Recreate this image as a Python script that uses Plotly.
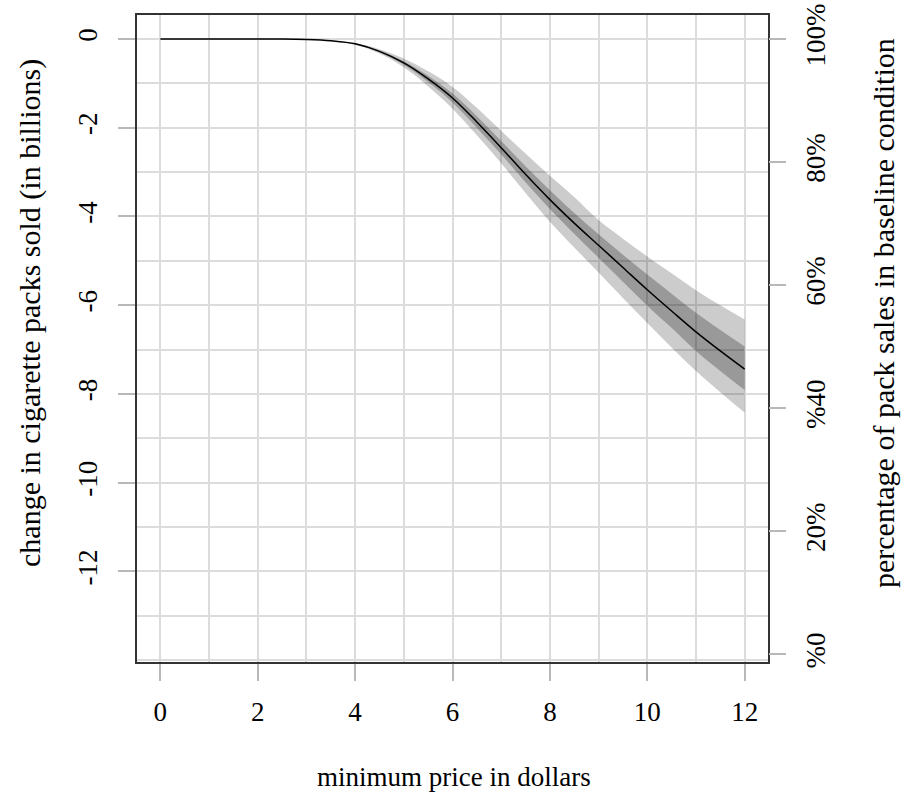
import plotly.graph_objects as go

# minimum price (dollars)
price = [0, 0.5, 1, 1.5, 2, 2.5, 3, 3.5, 4, 4.5, 5, 5.5, 6, 6.5, 7, 7.5, 8, 8.5, 9, 9.5, 10, 10.5, 11, 11.5, 12]
# central estimate: change in packs sold (billions)
change = [0, 0, 0, 0, 0, 0, -0.01, -0.04, -0.11, -0.28, -0.54, -0.90, -1.33, -1.87, -2.45, -3.05,
          -3.62, -4.15, -4.65, -5.15, -5.65, -6.13, -6.60, -7.03, -7.44]
# outer interval
outer_hi = [0, 0, 0, 0, 0, 0, -0.01, -0.035, -0.09, -0.23, -0.44, -0.73, -1.08, -1.55, -2.07, -2.58,
            -3.08, -3.56, -4.08, -4.50, -4.90, -5.28, -5.66, -6.00, -6.32]
outer_lo = [0, 0, 0, 0, 0, 0, -0.01, -0.045, -0.13, -0.33, -0.64, -1.07, -1.57, -2.17, -2.80, -3.47,
            -4.12, -4.70, -5.26, -5.84, -6.40, -6.95, -7.48, -7.96, -8.42]
# inner interval
inner_hi = [0, 0, 0, 0, 0, 0, -0.01, -0.038, -0.10, -0.26, -0.50, -0.83, -1.23, -1.74, -2.30, -2.87,
            -3.41, -3.92, -4.40, -4.86, -5.31, -5.74, -6.17, -6.56, -6.93]
inner_lo = [0, 0, 0, 0, 0, 0, -0.01, -0.042, -0.12, -0.30, -0.58, -0.97, -1.43, -2.00, -2.60, -3.23,
            -3.83, -4.39, -4.93, -5.47, -6.01, -6.51, -7.03, -7.48, -7.91]

x_ticks = [0, 2, 4, 6, 8, 10, 12]
y_ticks = [0, -2, -4, -6, -8, -10, -12]
y_text = ["0", "-2", "-4", "-6", "-8", "-10", "-12"]
pct_vals = [0, 20, 40, 60, 80, 100]
pct_text = ["%0", "20%", "%40", "60%", "80%", "100%"]

Y_RANGE = [-14.04, 0.54]
BASE = 13.87  # 0% position on the left scale
y2_range = [100 * (1 + Y_RANGE[0] / BASE), 100 * (1 + Y_RANGE[1] / BASE)]

FONT = "Liberation Serif"
GRID = "#dcdcdc"
TICKC = "#b8b8b8"

fig = go.Figure()
fig.add_trace(go.Scatter(x=price, y=outer_hi, mode="lines", line=dict(width=0, shape="spline"),
                         hoverinfo="skip", showlegend=False))
fig.add_trace(go.Scatter(x=price, y=outer_lo, mode="lines", line=dict(width=0, shape="spline"),
                         fill="tonexty", fillcolor="rgba(0,0,0,0.2)", hoverinfo="skip", showlegend=False))
fig.add_trace(go.Scatter(x=price, y=inner_hi, mode="lines", line=dict(width=0, shape="spline"),
                         hoverinfo="skip", showlegend=False))
fig.add_trace(go.Scatter(x=price, y=inner_lo, mode="lines", line=dict(width=0, shape="spline"),
                         fill="tonexty", fillcolor="rgba(0,0,0,0.25)", hoverinfo="skip", showlegend=False))
fig.add_trace(go.Scatter(x=price, y=change, mode="lines",
                         line=dict(color="black", width=1.5, shape="spline"), showlegend=False))
# anchor trace for the right-hand percentage axis
fig.add_trace(go.Scatter(x=[price[0]], y=[100], yaxis="y2", mode="markers",
                         marker=dict(opacity=0), hoverinfo="skip", showlegend=False))

fig.update_layout(
    width=905, height=796,
    margin=dict(l=137, r=137, t=15, b=134, autoexpand=False),
    plot_bgcolor="white", paper_bgcolor="white",
    font=dict(family=FONT, size=27, color="black"),
    xaxis=dict(range=[-0.48, 12.48], tickvals=x_ticks, ticks="outside", ticklen=17,
               tickcolor=TICKC, tickwidth=1.5, showgrid=True, gridcolor=GRID, gridwidth=1.5,
               minor=dict(dtick=1, tick0=0, showgrid=True, gridcolor=GRID, gridwidth=1.5, ticks=""),
               showline=True, linecolor="#333", linewidth=1.5, mirror=True, zeroline=False,
               ticklabelstandoff=8, automargin=False, ticklabeloverflow="allow",
               tickfont=dict(family=FONT, size=27)),
    yaxis=dict(range=Y_RANGE, tickvals=y_ticks, ticktext=y_text, ticks="outside", ticklen=17,
               tickcolor=TICKC, tickwidth=1.5, showgrid=True, gridcolor=GRID, gridwidth=1.5,
               minor=dict(dtick=1, tick0=0, showgrid=True, gridcolor=GRID, gridwidth=1.5, ticks=""),
               showline=True, linecolor="#333", linewidth=1.5, mirror=True, zeroline=False,
               tickangle=-90, ticklabelstandoff=10, automargin=False, ticklabeloverflow="allow",
               tickfont=dict(family=FONT, size=27)),
    yaxis2=dict(range=y2_range, overlaying="y", side="right", tickvals=pct_vals, ticktext=pct_text,
                ticks="outside", ticklen=17, tickcolor=TICKC, tickwidth=1.5, showgrid=False,
                zeroline=False, showline=False, tickangle=-90, ticklabelstandoff=7,
                automargin=False, ticklabeloverflow="allow",
                tickfont=dict(family=FONT, size=27)),
    annotations=[
        dict(text="minimum price in dollars", xref="paper", yref="paper",
             x=(454 - 137) / 631, y=(662 - 777) / 647, xanchor="center", yanchor="middle",
             showarrow=False, font=dict(family=FONT, size=27)),
        dict(text="change in cigarette packs sold (in billions)", xref="paper", yref="paper",
             x=(30 - 137) / 631, y=(662 - 313) / 647, xanchor="center", yanchor="middle",
             textangle=-90, showarrow=False, font=dict(family=FONT, size=30)),
        dict(text="percentage of pack sales in baseline condition", xref="paper", yref="paper",
             x=(883 - 137) / 631, y=(662 - 313) / 647, xanchor="center", yanchor="middle",
             textangle=-90, showarrow=False, font=dict(family=FONT, size=30)),
    ],
)

# remove the default 8px page margin so the figure sits at the window's top-left corner
fig.write_html("out.html", config={"displayModeBar": False},
               post_script="document.body.style.margin='0';")
